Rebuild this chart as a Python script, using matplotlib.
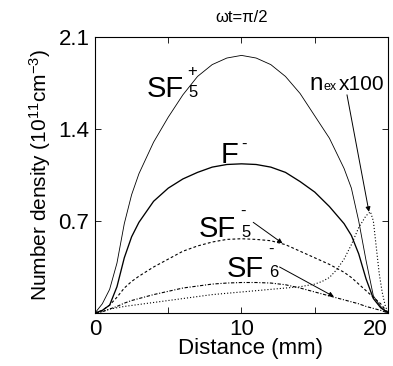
"""Number density profiles at wt = pi/2 (SF5+, F-, SF5-, SF6-, n_ex x100)."""
import matplotlib
matplotlib.use("Agg")
import matplotlib.pyplot as plt

# --- data (distance in mm, density in 1e11 cm^-3) ---
x = [0, 0.5, 1, 1.5, 2, 2.5, 3, 4, 5, 6, 7, 8, 9, 10, 11, 12, 13, 14, 15,
     16, 17, 17.5, 18, 18.5, 19, 19.5, 20]
sf5_plus = [0, 0.07, 0.18, 0.38, 0.68, 0.9, 1.06, 1.3, 1.49, 1.66, 1.8, 1.89,
            1.94, 1.96, 1.94, 1.89, 1.8, 1.67, 1.5, 1.33, 1.1, 0.95, 0.7,
            0.4, 0.13, 0.05, 0]
f_minus = [0, 0.02, 0.06, 0.2, 0.42, 0.58, 0.69, 0.85, 0.95, 1.02, 1.07,
           1.11, 1.13, 1.135, 1.13, 1.11, 1.07, 1.0, 0.92, 0.81, 0.68, 0.59,
           0.45, 0.26, 0.11, 0.04, 0]
sf5_minus = [0, 0.02, 0.06, 0.12, 0.19, 0.24, 0.28, 0.35, 0.41, 0.47, 0.51,
             0.54, 0.56, 0.565, 0.56, 0.55, 0.52, 0.47, 0.42, 0.37, 0.31,
             0.27, 0.22, 0.17, 0.12, 0.07, 0]
sf6_minus = [0, 0.01, 0.03, 0.05, 0.075, 0.095, 0.11, 0.14, 0.165, 0.19,
             0.205, 0.22, 0.228, 0.232, 0.232, 0.228, 0.215, 0.19, 0.16,
             0.13, 0.1, 0.085, 0.07, 0.05, 0.035, 0.02, 0]
x_nex = [0, 0.5, 1, 2, 4, 6, 8, 10, 12, 13, 14, 15, 15.5, 16, 16.5, 17, 17.5,
         18, 18.5, 18.8, 19, 19.2, 19.4, 19.6, 19.8, 20]
n_ex100 = [0, 0.01, 0.03, 0.05, 0.08, 0.11, 0.14, 0.16, 0.18, 0.19, 0.2, 0.22,
           0.24, 0.27, 0.33, 0.41, 0.52, 0.65, 0.74, 0.77, 0.7, 0.5, 0.3,
           0.16, 0.06, 0]

plt.rcParams["font.family"] = ["Liberation Sans", "DejaVu Sans"]
plt.rcParams["mathtext.fontset"] = "custom"
plt.rcParams["mathtext.rm"] = "Liberation Sans"
plt.rcParams["mathtext.it"] = "Liberation Sans:italic"
plt.rcParams["mathtext.sf"] = "Liberation Sans"

fig = plt.figure(figsize=(3.93, 3.66), dpi=100)
ax = fig.add_axes([0.2417, 0.1448, 0.7456, 0.7541])

ax.plot(x, sf5_plus, color="k", lw=0.6)
ax.plot(x, f_minus, color="k", lw=0.95)
ax.plot(x, sf5_minus, color="k", lw=0.8, ls=(0, (2.5, 2)))
ax.plot(x, sf6_minus, color="k", lw=0.8, ls=(0, (3, 1.5, 1, 1.5)))
ax.plot(x_nex, n_ex100, color="k", lw=0.8, ls=(0, (1, 1.8)))

ax.set_xlim(0, 20)
ax.set_ylim(0, 2.1)
ax.set_xticks([0, 5, 10, 15, 20])
ax.set_xticklabels(["0", "", "10", "", "20"])
ax.get_xticklabels()[-1].set_horizontalalignment("right")
ax.set_yticks([0.7, 1.4, 2.1])
ax.set_yticklabels(["0.7", "1.4", "2.1"])
ax.tick_params(direction="in", top=True, right=True, length=4, width=0.6,
               labelsize=16, pad=4)
for s in ax.spines.values():
    s.set_linewidth(0.8)

ax.set_xlabel("Distance (mm)", fontsize=16, labelpad=0)
ax.xaxis.set_label_coords(0.532, -0.092)
ax.set_ylabel(r"Number density (10$^{11}$cm$^{-3}$)", fontsize=15, labelpad=4)
ax.set_title(r"ωt=π/2", fontsize=12, pad=11)

# curve labels
big, sub = 21, 12
ax.text(3.5, 1.64, "SF", fontsize=big)
ax.text(6.6, 1.80, "+", fontsize=sub, ha="center")
ax.text(6.7, 1.64, "5", fontsize=sub, ha="center")

ax.text(8.6, 1.14, "F", fontsize=big)
ax.text(10.2, 1.25, "-", fontsize=sub, ha="center")

ax.text(7.1, 0.58, "SF", fontsize=big)
ax.text(10.1, 0.74, "-", fontsize=sub, ha="center")
ax.text(10.3, 0.58, "5", fontsize=sub, ha="center")

ax.text(9.0, 0.275, "SF", fontsize=big)
ax.text(12.0, 0.45, "-", fontsize=sub, ha="center")
ax.text(12.2, 0.275, "6", fontsize=sub, ha="center")

ax.text(14.65, 1.70, "n", fontsize=17.5)
ax.text(15.62, 1.70, "ex", fontsize=9)
ax.text(16.62, 1.70, "x100", fontsize=15)

arrow = dict(arrowstyle="-|>", lw=0.7, color="k", mutation_scale=7,
             shrinkA=0, shrinkB=0)
ax.annotate("", xy=(12.8, 0.53), xytext=(10.8, 0.69), arrowprops=arrow)
ax.annotate("", xy=(16.3, 0.125), xytext=(12.6, 0.35), arrowprops=arrow)
ax.annotate("", xy=(18.7, 0.77), xytext=(17.2, 1.66), arrowprops=arrow)

fig.savefig("out.png", dpi=100)
